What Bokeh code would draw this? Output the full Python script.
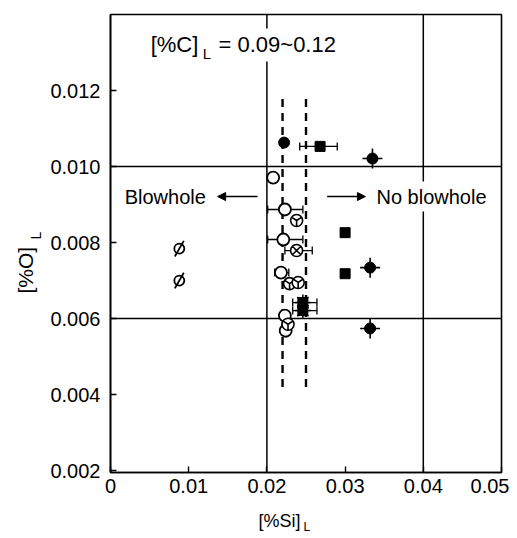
import math
from bokeh.plotting import figure
from bokeh.models import (Span, Label, Arrow, NormalHead, Whisker, TeeHead,
                          ColumnDataSource, FixedTicker)
from bokeh.embed import file_html
from bokeh.resources import INLINE

# ---------------- data ----------------
x_ticks = [0, 0.01, 0.02, 0.03, 0.04, 0.05]
x_tick_labels = ["0", "0.01", "0.02", "0.03", "0.04", "0.05"]
y_ticks = [0.002, 0.004, 0.006, 0.008, 0.010, 0.012]
y_tick_labels = ["0.002", "0.004", "0.006", "0.008", "0.010", "0.012"]

# blowhole side (slashed circles)
slash_x = [0.0088, 0.0088]
slash_y = [0.00784, 0.00700]
# open circles
open_x = [0.0208, 0.0223, 0.0221, 0.0218, 0.0223, 0.0224]
open_y = [0.00971, 0.00887, 0.00808, 0.00721, 0.00608, 0.00568]
# hooked circles
hook_x = [0.0238, 0.0229, 0.0240, 0.0227]
hook_y = [0.00858, 0.00692, 0.00695, 0.00585]
# crossed circle
xc_x = [0.0238]
xc_y = [0.00779]
# filled circle
fill_x = [0.0222]
fill_y = [0.01063]
# filled squares
sq_x = [0.0268, 0.0300, 0.0300]
sq_y = [0.01053, 0.00826, 0.00718]
# starred squares
star_x = [0.0246, 0.0246]
star_y = [0.00642, 0.00621]
# spiked dots
spike_x = [0.0335, 0.0332, 0.0332]
spike_y = [0.01021, 0.00734, 0.00574]

# horizontal error bars
err_y = [0.01053, 0.00887, 0.00808, 0.00779, 0.00721, 0.00642, 0.00621]
err_lo = [0.0242, 0.0201, 0.0201, 0.0223, 0.0210, 0.0233, 0.0233]
err_hi = [0.0290, 0.0246, 0.0246, 0.0258, 0.0228, 0.0264, 0.0264]

# reference lines
vlines = [0.02, 0.04]
hlines = [0.006, 0.010]
crit_x = [0.022, 0.025]
crit_y0 = [0.0042, 0.0042]
crit_y1 = [0.0118, 0.0118]

# arrows
arrow_y = 0.00921
left_arrow = (0.0188, 0.0137)
right_arrow = (0.0277, 0.0326)

FONT = "Liberation Sans"

p = figure(frame_width=391, frame_height=458, output_backend="svg",
           toolbar_location=None,
           x_range=(0, 0.05), y_range=(0.00195, 0.0140),
           min_border_left=110, min_border_right=8, min_border_top=14,
           min_border_bottom=62)
p.grid.visible = False
p.outline_line_color = "black"
p.outline_line_width = 1.6
p.background_fill_color = "white"

for ax in (p.xaxis, p.yaxis):
    ax.axis_line_width = 1.6
    ax.axis_line_color = "black"
    ax.major_tick_in = 6
    ax.major_tick_out = 0
    ax.major_tick_line_width = 1.4
    ax.minor_tick_line_color = None
    ax.major_label_text_font = FONT
    ax.major_label_text_font_size = "20px"
    ax.major_label_text_color = "black"

p.xaxis.major_label_standoff = 6
p.yaxis.major_label_standoff = 10

p.xaxis.ticker = FixedTicker(ticks=x_ticks)
p.yaxis.ticker = FixedTicker(ticks=y_ticks)
p.xaxis.major_label_overrides = {t: l for t, l in zip(x_ticks, x_tick_labels)}
p.yaxis.major_label_overrides = {t: l for t, l in zip(y_ticks, y_tick_labels)}

for v in vlines:
    p.add_layout(Span(location=v, dimension="height", line_color="black",
                      line_width=1.5, level="underlay"))
for h in hlines:
    p.add_layout(Span(location=h, dimension="width", line_color="black",
                      line_width=1.5, level="underlay"))

p.segment(x0=crit_x, y0=crit_y0, x1=crit_x, y1=crit_y1, line_color="black",
          line_width=2.4, line_dash="8 6")

# error bars
esrc = ColumnDataSource(dict(y=err_y, lo=err_lo, hi=err_hi))
p.add_layout(Whisker(source=esrc, base="y", lower="lo", upper="hi",
                     dimension="width", line_color="black", line_width=1.3,
                     lower_head=TeeHead(size=8, line_color="black", line_width=1.3),
                     upper_head=TeeHead(size=8, line_color="black", line_width=1.3)))

# markers
p.scatter(slash_x, slash_y, marker="circle", size=10, fill_color="white",
          line_color="black", line_width=1.8)
p.scatter(slash_x, slash_y, marker="dash", size=18, angle=1.05,
          line_color="black", line_width=1.8)
p.scatter(open_x, open_y, marker="circle", size=12, fill_color="white",
          line_color="black", line_width=1.8)
p.scatter(hook_x, hook_y, marker="circle_y", size=12, fill_color="white",
          line_color="black", line_width=1.6)
p.scatter(xc_x, xc_y, marker="circle_x", size=12, fill_color="white",
          line_color="black", line_width=1.6)
p.scatter(fill_x, fill_y, marker="circle", size=11, fill_color="black",
          line_color="black")
p.scatter(sq_x, sq_y, marker="square", size=10, fill_color="black",
          line_color="black")
p.scatter(star_x, star_y, marker="square", size=10, fill_color="black",
          line_color="black")
p.scatter(star_x, star_y, marker="asterisk", size=16, line_color="black",
          line_width=1.5)
p.scatter(spike_x, spike_y, marker="cross", size=20, line_color="black",
          line_width=1.6)
p.scatter(spike_x, spike_y, marker="circle", size=11, fill_color="black",
          line_color="black")

# arrows
p.add_layout(Arrow(x_start=left_arrow[0], y_start=arrow_y, x_end=left_arrow[1],
                   y_end=arrow_y, line_color="black", line_width=1.6,
                   end=NormalHead(size=8, fill_color="black", line_color="black")))
p.add_layout(Arrow(x_start=right_arrow[0], y_start=arrow_y, x_end=right_arrow[1],
                   y_end=arrow_y, line_color="black", line_width=1.6,
                   end=NormalHead(size=8, fill_color="black", line_color="black")))

def lab(x, y, text, size, align="left", baseline="middle", angle=0, bg=None,
        units="data", place=None):
    kw = {}
    if bg:
        kw = dict(background_fill_color=bg, padding=4)
    l = Label(x=x, y=y, text=text, text_font=FONT, text_font_size=size,
              text_align=align, text_baseline=baseline, angle=angle,
              x_units=units, y_units=units,
              text_color="black", **kw)
    if place:
        p.add_layout(l, place)
    else:
        l.level = "overlay"
        p.add_layout(l)

lab(0.0013, arrow_y, "Blowhole", "20px", bg="white")
lab(0.0335, arrow_y, "No blowhole", "20px", bg="white")
lab(0.00462, 0.0132, "[%C]", "22px", bg="white")
lab(0.0118, 0.01297, "L", "15px")
lab(0.0133, 0.0132, "= 0.09~0.12", "22px", bg="white")

# axis titles (canvas pixels, in the side panels)
lab(258, 520, "[%Si]", "18px", units="canvas", place="below")
lab(303, 526, "L", "12px", units="canvas", place="below")
lab(25, 293, "[%O]", "21px", angle=math.pi / 2, units="canvas", place="left")
lab(35, 239, "L", "14px", angle=math.pi / 2, units="canvas", place="left")

open("out.html", "w").write(file_html(p, INLINE))
